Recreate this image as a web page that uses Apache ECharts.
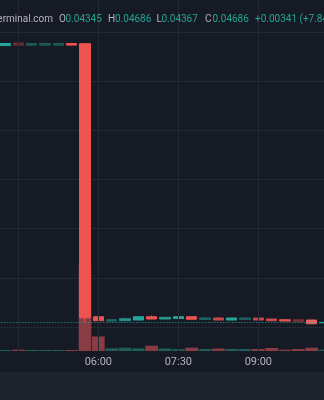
<!DOCTYPE html>
<html>
<head>
<meta charset="utf-8">
<script src="https://cdn.jsdelivr.net/npm/echarts@6/dist/echarts.min.js"></script>
<style>
html,body{margin:0;padding:0;background:#161a25;overflow:hidden;width:324px;height:400px;position:relative;}
#c{position:absolute;left:-2px;top:0;width:336px;height:400px;}
</style>
</head>
<body>
<div id="c"></div>
<script>
// ---- data (15-minute candles) ----
const categories = ['04:15','04:30','04:45','05:00','05:15','05:30','05:45','06:00','06:15','06:30','06:45','07:00','07:15','07:30','07:45','08:00','08:15','08:30','08:45','09:00','09:15','09:30','09:45','10:00','10:15'];
const opens  = [2.862, 2.889, 2.866, 2.866, 2.866, 2.883, 2.881, 0.1047, 0.0610, 0.0640, 0.0711, 0.1047, 0.0813, 0.0864, 0.1047, 0.0783, 0.0915, 0.0711, 0.0783, 0.0915, 0.0813, 0.0742, 0.0742, 0.0711, 0.04345];
const closes = [2.883, 2.866, 2.883, 2.883, 2.883, 2.867, 0.0945, 0.0640, 0.0742, 0.0844, 0.1047, 0.0813, 0.0986, 0.1047, 0.0793, 0.0915, 0.0711, 0.0915, 0.0915, 0.0711, 0.0640, 0.0610, 0.0539, 0.0335, 0.04686];
const lows   = [2.860, 2.864, 2.864, 2.864, 2.864, 2.865, 0.0539, 0.0610, 0.0600, 0.0630, 0.0700, 0.0800, 0.0800, 0.0850, 0.0780, 0.0770, 0.0700, 0.0700, 0.0770, 0.0700, 0.0630, 0.0600, 0.0530, 0.0330, 0.04345];
const highs  = [2.886, 2.892, 2.885, 2.885, 2.885, 2.885, 2.883, 0.1189, 0.0760, 0.0945, 0.1060, 0.1189, 0.1000, 0.1060, 0.1060, 0.1026, 0.1016, 0.0930, 0.0930, 0.0930, 0.0830, 0.0750, 0.0750, 0.0720, 0.04686];
const volumes = [10, 13, 10, 10, 10, 10, 860, 145, 27, 33, 27, 53, 25, 18, 33, 20, 25, 20, 20, 20, 30, 13, 20, 33, 13];
const timeLabels = ['06:00','07:30','09:00'];
const gridTimes = ['04:30','06:00','07:30','09:00'];
const lastPrice = 0.04686;
const headerSymbol = 'Terminal.com';
const headerStats = [['O','0.04345'],['H','0.04686'],['L','0.04367'],['C','0.04686']];
const headerChange = '+0.00341 (+7.84%)';

// ---- styles ----
const candleColors = ['#26a69a','#6b2b30','#1c5a55','#1c5a55','#1c5a55','#ef5350','#ef5350','#ef5350','#1f6a62','#23918a','#26a69a','#ef5350','#24998f','#26a69a','#ef5350','#1e6a63','#c8474b','#26a69a','#1e6660','#c8474b','#d24c4e','#ef5350','#7a3035','#e5675f','#26a69a'];
const UP_VOL = '#1f5f58', DOWN_VOL = '#8a3c44';
const GRID_C = '#242833';
const TEXT_C = '#b2b5be', VAL_C = '#22a594';

const candleData = categories.map((c, i) => ({
  value: [opens[i], closes[i], lows[i], highs[i]],
  itemStyle: {color: candleColors[i], color0: candleColors[i], borderColor: candleColors[i], borderColor0: candleColors[i]}
}));
const volData = categories.map((c, i) => ({
  value: volumes[i],
  itemStyle: {color: closes[i] >= opens[i] ? UP_VOL : DOWN_VOL}
}));

// chart container is shifted 2px left of the page
const OFF = 2;
const L = -1.67 + OFF, W = 333.33;
const headerX = [[59, 65.5], [108, 115], [156.5, 161.5], [205, 212.5]];
const graphics = [
  {type:'rect', shape:{x:0, y:372, width:336, height:28}, style:{fill:'#1e222b'}, z:100, silent:true},
  {type:'text', z:100, style:{text: headerSymbol, x:53 + OFF, y:19.5, align:'right', verticalAlign:'middle', textAlign:'right', textVerticalAlign:'middle', fill:TEXT_C, font:'10px Roboto'}}
];
headerStats.forEach((s, i) => {
  graphics.push({type:'text', z:100, style:{text:s[0], x:headerX[i][0] + OFF, y:19.5, verticalAlign:'middle', textVerticalAlign:'middle', fill:TEXT_C, font:'10px Roboto'}});
  graphics.push({type:'text', z:100, style:{text:s[1], x:headerX[i][1] + OFF, y:19.5, verticalAlign:'middle', textVerticalAlign:'middle', fill:VAL_C, font:'10px Roboto'}});
});
graphics.push({type:'text', z:100, style:{text:headerChange, x:255 + OFF, y:19.5, verticalAlign:'middle', textVerticalAlign:'middle', fill:VAL_C, font:'10px Roboto'}});

const chart = echarts.init(document.getElementById('c'), null, {renderer:'canvas'});
chart.setOption({
  backgroundColor: '#161a25',
  animation: false,
  grid: [
    {left: L, width: W, top: 32, height: 344.2},
    {left: L, width: W, top: 251, height: 100},
    {left: L, width: W, top: 0, height: 351}
  ],
  xAxis: [
    {type:'category', gridIndex:0, data:categories, boundaryGap:true, show:false},
    {type:'category', gridIndex:1, data:categories, boundaryGap:true,
     axisLine:{show:false}, axisTick:{show:false}, splitLine:{show:false},
     axisLabel:{show:true, margin:6, color:TEXT_C, fontSize:11, fontFamily:'Roboto',
       interval:(idx, val) => timeLabels.indexOf(val) >= 0}},
    {type:'category', gridIndex:2, data:categories, boundaryGap:true, show:false}
  ],
  yAxis: [
    {type:'value', gridIndex:0, min:-0.5, max:3, interval:0.5,
     axisLine:{show:false}, axisTick:{show:false}, axisLabel:{show:false},
     splitLine:{show:true, lineStyle:{color:GRID_C, width:1}}},
    {type:'value', gridIndex:1, min:0, max:1000, show:false, splitLine:{show:false}},
    {type:'value', gridIndex:2, min:0, max:1, show:false, splitLine:{show:false}}
  ],
  series: [
    {type:'line', xAxisIndex:2, yAxisIndex:2, data: categories.map(() => '-'), z:0, silent:true,
     markLine:{silent:true, symbol:['none','none'], label:{show:false},
       lineStyle:{color:GRID_C, width:1, type:'solid'},
       data: gridTimes.map(t => ({xAxis: t}))}},
    {type:'bar', xAxisIndex:1, yAxisIndex:1, data: volData, barCategoryGap:'5%', z:1, silent:true},
    {type:'candlestick', xAxisIndex:0, yAxisIndex:0, data: candleData, barWidth: 11, z:2, silent:true,
     markLine:{silent:true, symbol:['none','none'], label:{show:false},
       lineStyle:{color:'#26a69a', width:1, type:[1,2]},
       data:[{yAxis:lastPrice}]}}
  ],
  graphic: graphics
});
</script>
</body>
</html>
